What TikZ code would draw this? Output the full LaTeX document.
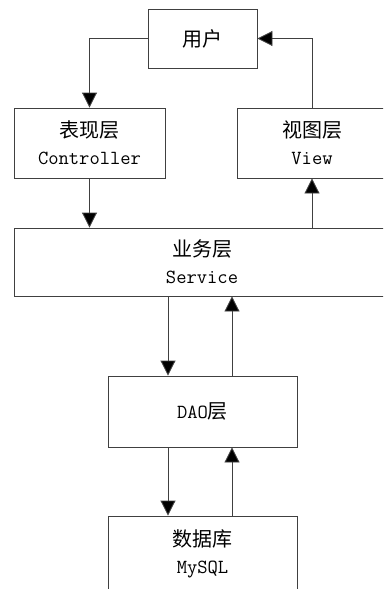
\documentclass[tikz,border=0pt]{standalone}
\usepackage{fontspec}
\newfontfamily\cjk{Noto Sans CJK SC}
\usetikzlibrary{arrows.meta}
\begin{document}
\begin{tikzpicture}[x=1pt,y=-1pt,
  box/.style={draw=black!75, line width=0.9pt, rectangle, inner sep=0pt, align=center,
    font=\fontsize{20}{27}\selectfont},
  arr/.style={draw=black!75, line width=0.9pt, -{Triangle[width=15pt,length=15pt,fill=black]}}]
\useasboundingbox (0,0) rectangle (383,589);
\clip (0,0) rectangle (383,589);
\node[box, minimum width=109pt, minimum height=59pt] (user) at (202.5,38.5) {{\cjk 用户}};
\node[box, minimum width=151pt, minimum height=70pt] (ctrl) at (89.5,143) {{\cjk 表现层}\\\ttfamily Controller};
\node[box, minimum width=150pt, minimum height=70pt] (view) at (312,143) {{\cjk 视图层}\\\ttfamily View};
\node[box, minimum width=376pt, minimum height=68pt] (svc) at (202,262) {{\cjk 业务层}\\\ttfamily Service};
\node[box, minimum width=189pt, minimum height=71pt] (dao) at (202.5,411.5) {{\ttfamily DAO}{\cjk 层}};
\node[box, minimum width=189pt, minimum height=76pt] (db) at (202.5,554) {{\cjk 数据库}\\\ttfamily MySQL};
\draw[arr] (user.west) -| (ctrl.north);
\draw[arr] (view.north) |- (user.east);
\draw[arr] (ctrl.south) -- (ctrl.south |- svc.north);
\draw[arr] (view.south |- svc.north) -- (view.south);
\coordinate (daoL) at ([xshift=-34.5pt]dao.north);
\coordinate (daoR) at ([xshift=29.5pt]dao.north);
\coordinate (dbL) at ([xshift=-34.5pt]db.north);
\coordinate (dbR) at ([xshift=29.5pt]db.north);
\draw[arr] (daoL |- svc.south) -- (daoL);
\draw[arr] (daoR) -- (daoR |- svc.south);
\draw[arr] (dbL |- dao.south) -- (dbL);
\draw[arr] (dbR) -- (dbR |- dao.south);
\end{tikzpicture}
\end{document}
